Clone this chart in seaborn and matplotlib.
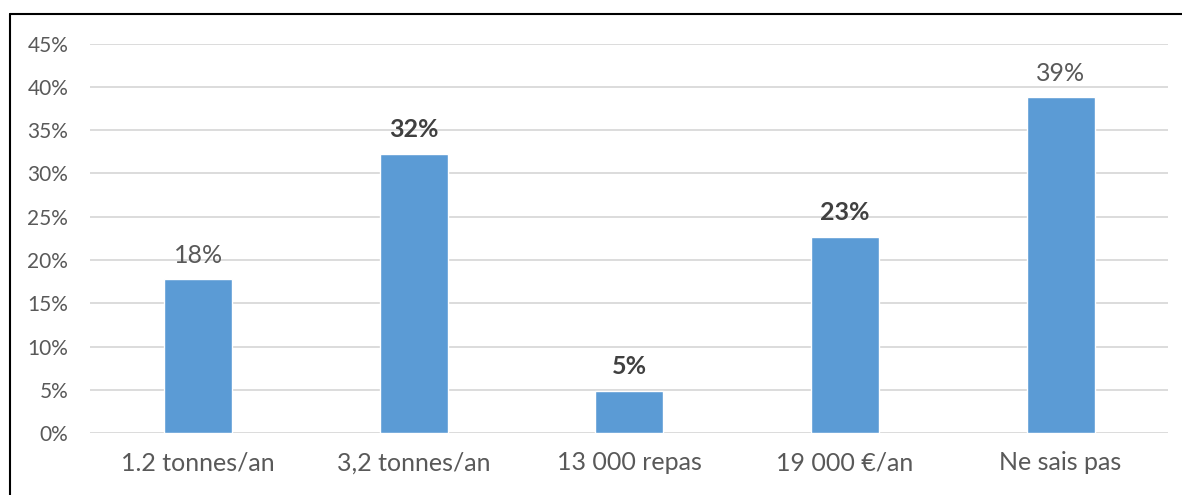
"""
Bar chart of survey answers (share of respondents per answer).
"""

import matplotlib
matplotlib.use('Agg')
import matplotlib.pyplot as plt
import seaborn as sns
import pandas as pd
from matplotlib.ticker import PercentFormatter

# Data
categories = ['1.2 tonnes/an', '3,2 tonnes/an', '13 000 repas', '19 000 €/an', 'Ne sais pas']
shares = [17.8, 32.3, 4.9, 22.7, 38.8]
value_labels = ['18%', '32%', '5%', '23%', '39%']
bold_labels = [False, True, True, True, False]
y_ticks = [0, 5, 10, 15, 20, 25, 30, 35, 40, 45]

sns.set_theme(style='white')
plt.rcParams['font.family'] = ['Lato', 'DejaVu Sans']

text_color = '#595959'
bar_color = '#5B9BD5'
grid_color = '#D9D9D9'

df = pd.DataFrame({'answer': categories, 'share': shares})

fig = plt.figure(figsize=(11.82, 4.95), dpi=100)
ax = fig.add_axes([0.0765, 0.125, 0.912, 0.787])

sns.barplot(data=df, x='answer', y='share', color=bar_color, width=0.315,
            saturation=1, ax=ax)

ax.set_ylim(0, 45)
ax.set_yticks(y_ticks)
ax.yaxis.set_major_formatter(PercentFormatter(decimals=0))
ax.set_xlim(-0.5, len(categories) - 0.5)
ax.grid(axis='y', color=grid_color, linewidth=1.3)
ax.set_axisbelow(True)
for side in ['top', 'right', 'left', 'bottom']:
    ax.spines[side].set_visible(False)
ax.set_xlabel('')
ax.set_ylabel('')
ax.tick_params(axis='y', labelsize=15, colors=text_color, length=0, pad=16)
ax.tick_params(axis='x', labelsize=18, colors=text_color, length=0, pad=13)

# Data labels
for i, (val, lab, bold) in enumerate(zip(shares, value_labels, bold_labels)):
    ax.annotate(lab, (i, val), xytext=(0, 9), textcoords='offset points',
                ha='center', va='bottom', fontsize=18,
                color='#404040' if bold else text_color,
                fontweight='bold' if bold else 'normal')

# Frame lines (left and top, as in the cropped original)
fig.add_artist(plt.Line2D([0.0085, 0.0085], [0, 0.972], color='black', linewidth=1.5,
                          transform=fig.transFigure))
fig.add_artist(plt.Line2D([0.0085, 1.0], [0.972, 0.972], color='black', linewidth=1.5,
                          transform=fig.transFigure))

fig.savefig('out.png', dpi=100)
